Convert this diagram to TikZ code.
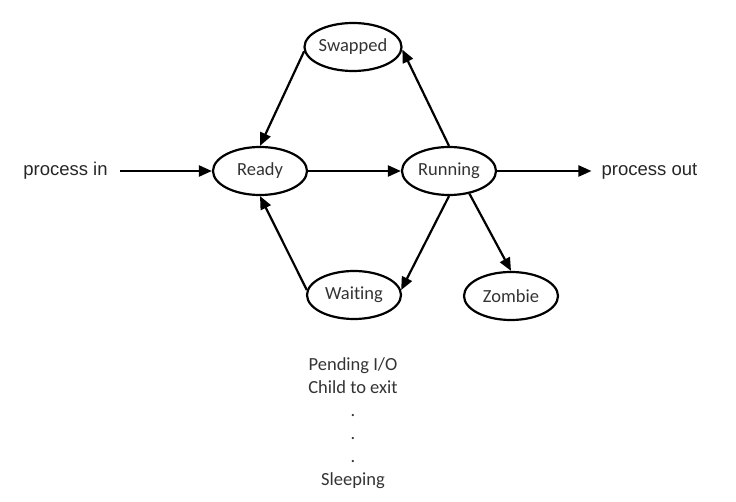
\documentclass[tikz,border=0pt]{standalone}
\usepackage{fontspec}
\setmainfont[RawFeature=-liga]{Carlito}
\newfontfamily\arialfont{Liberation Sans}
\usetikzlibrary{arrows.meta,shapes.geometric}
\begin{document}
\begin{tikzpicture}[x=1pt,y=-1pt,
  state/.style={ellipse,draw=black,line width=2.2pt,minimum width=94pt,minimum height=48pt,inner sep=0pt,
    font=\fontsize{18.5}{22}\selectfont,text=black!80},
  ext/.style={font=\arialfont\fontsize{18.5}{22}\selectfont,text=black!85,inner sep=0pt},
  conn/.style={line width=2.2pt,-{Triangle[length=13pt,width=11pt]}},
  note/.style={align=center,font=\fontsize{18.5}{23}\selectfont,text=black!80,inner sep=0pt}]
\useasboundingbox (0,0) rectangle (736,502);
\node[state] (swapped) at (353,47) {Swapped};
\node[state] (ready) at (260,171) {Ready};
\node[state] (running) at (449,171) {Running};
\node[state] (waiting) at (354,295) {Waiting};
\node[state] (zombie) at (511,296) {Zombie};
\node[ext] (pin) at (65.5,171) {process in};
\node[ext] (pout) at (649.5,171) {process out};
\node[note] (reasons) at (353,423.5) {Pending I/O\\Child to exit\\.\\.\\.\\Sleeping};
\draw[conn] ([xshift=12pt]pin.east) -- (ready.west);
\draw[conn] (running.east) -- ([xshift=-10pt]pout.west);
\draw[conn] (ready.east) -- (running.west);
\draw[conn] (swapped.185) -- (ready.north);
\draw[conn] (running.north) -- (swapped.-3);
\draw[conn] (running.south) -- (waiting.6);
\draw[conn] (waiting.174) -- (ready.south);
\draw[conn] (running.-48) -- (zombie.north);
\end{tikzpicture}
\end{document}
